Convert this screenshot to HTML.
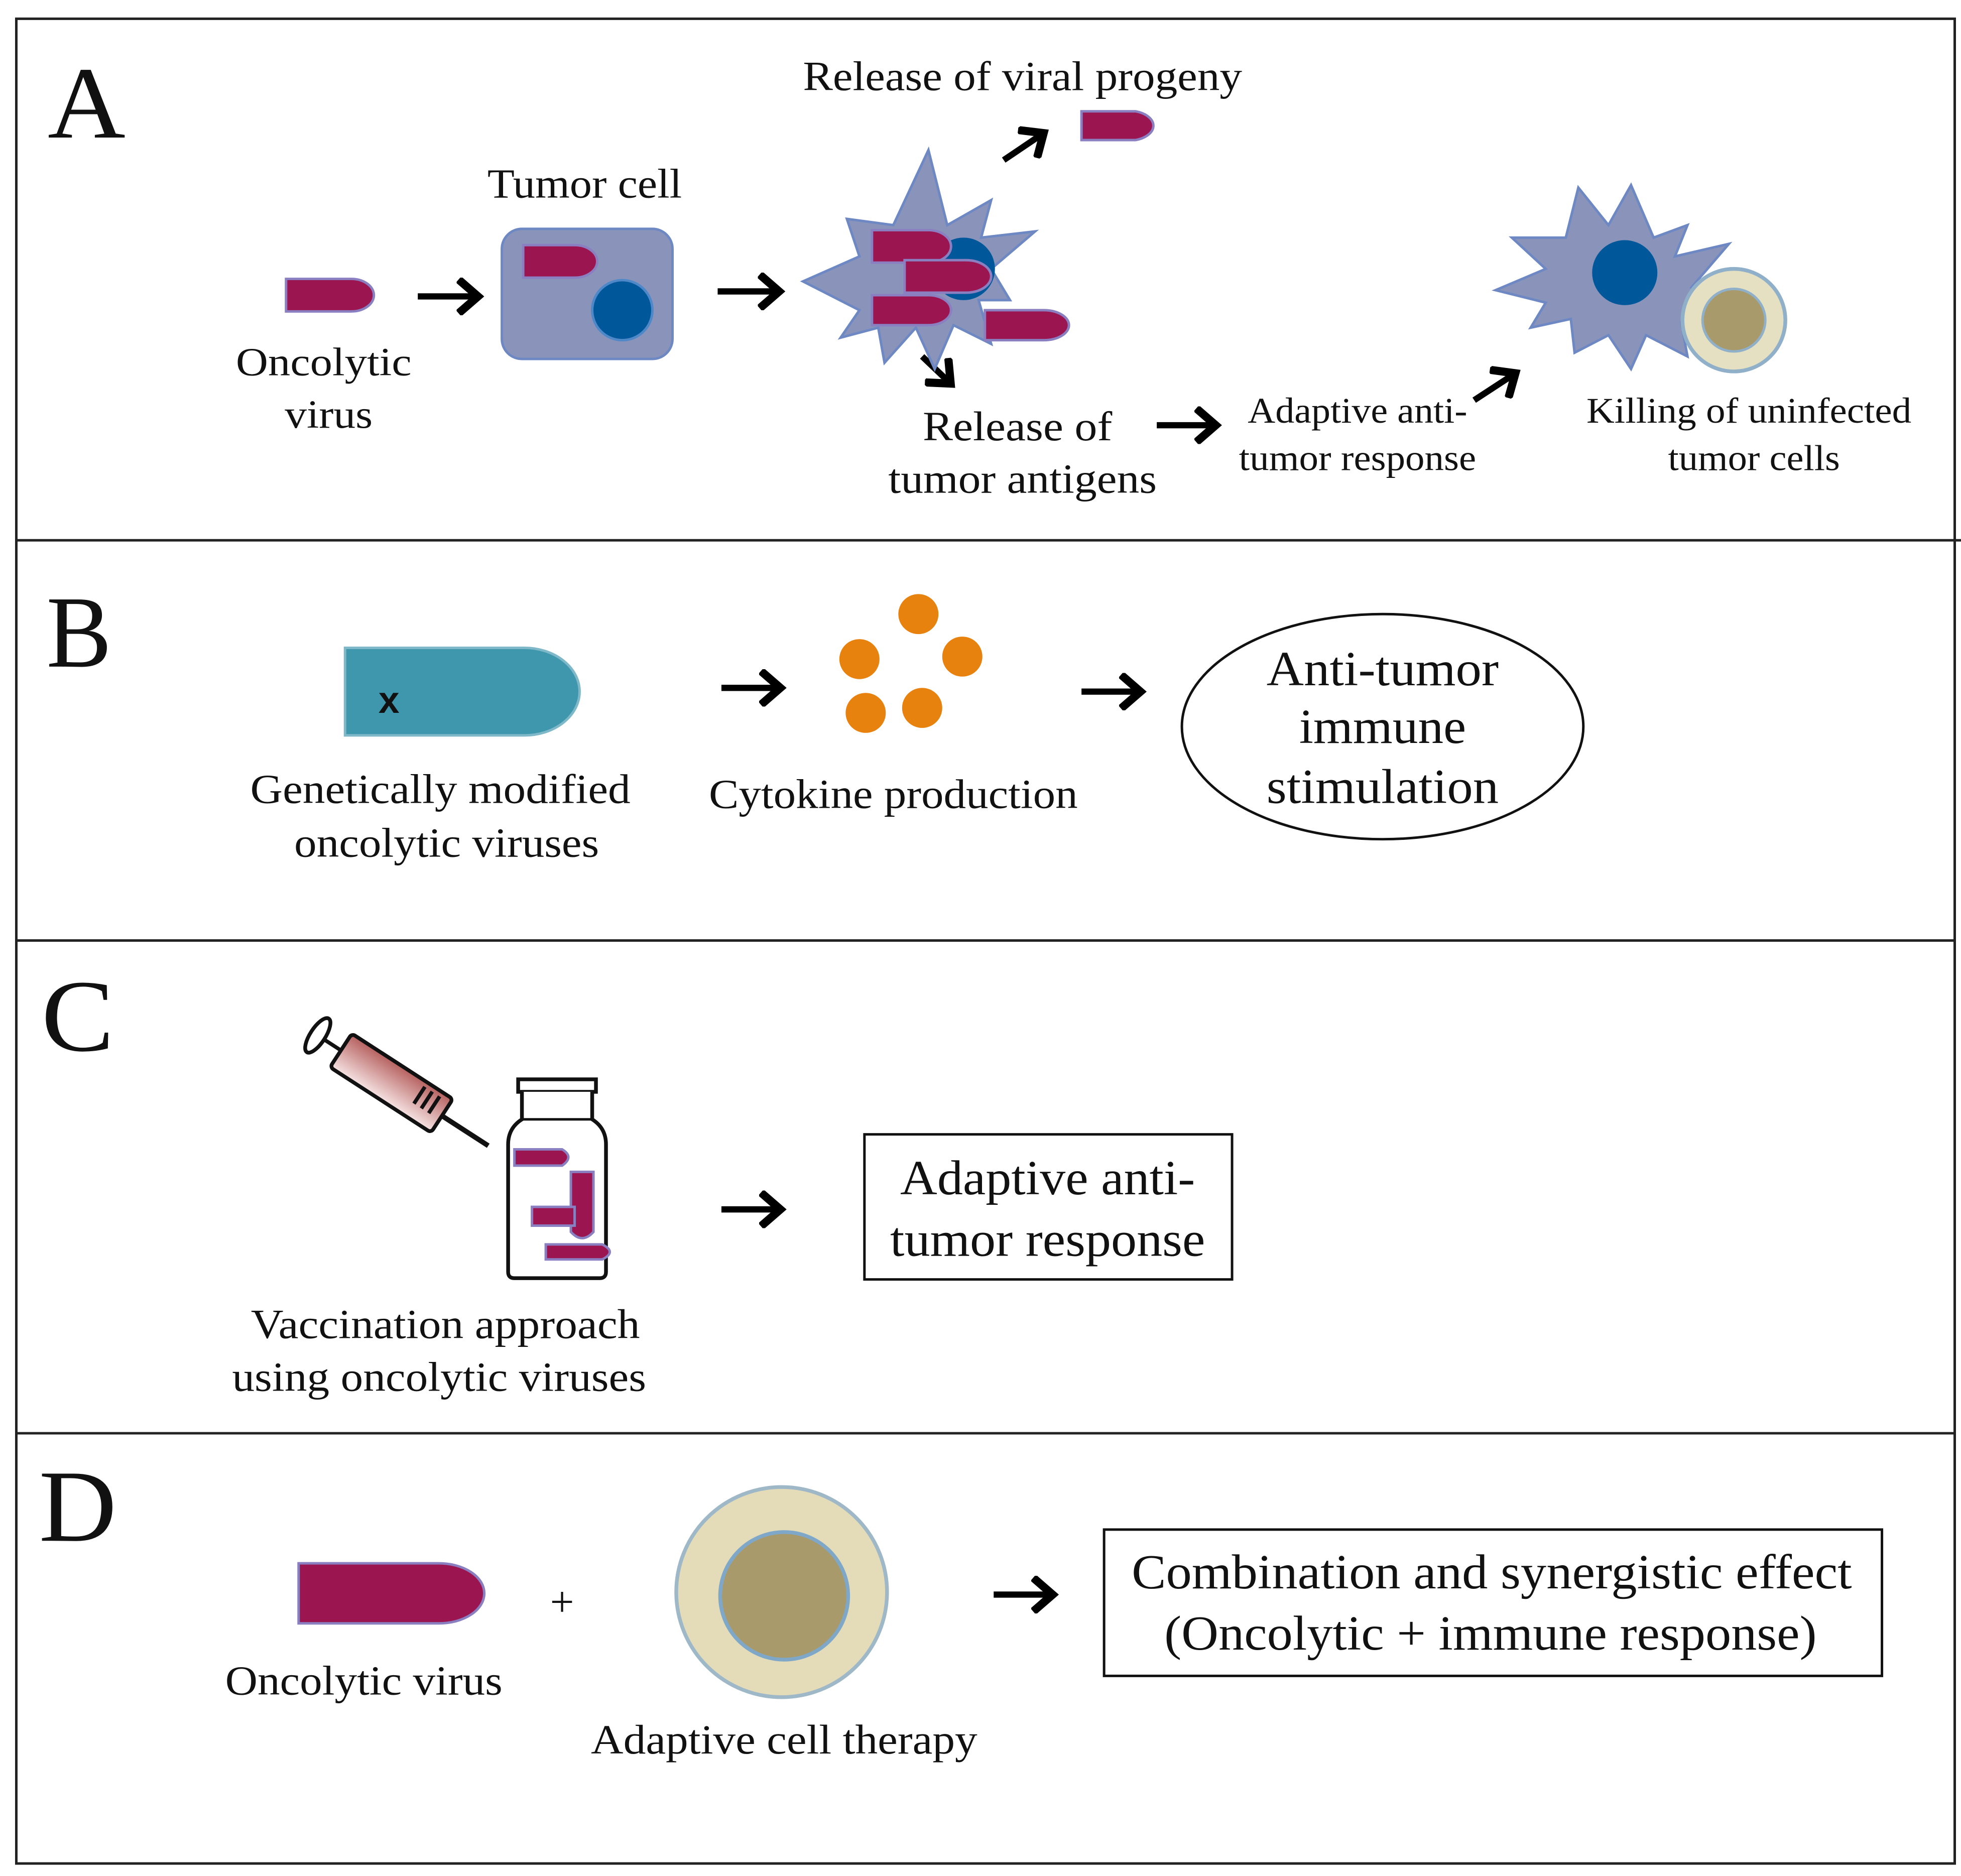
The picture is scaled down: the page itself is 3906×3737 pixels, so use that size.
<!DOCTYPE html>
<html><head><meta charset="utf-8"><style>
html,body{margin:0;padding:0;background:#fff}
svg{display:block}
text{font-family:"Liberation Serif",serif;fill:#111}
</style></head><body>
<svg width="3906" height="3737" viewBox="0 0 1563 1500" preserveAspectRatio="none" xmlns="http://www.w3.org/2000/svg">
<defs>
<marker id="ah" markerWidth="6" markerHeight="6" refX="3.2" refY="3" orient="auto" markerUnits="strokeWidth">
<path d="M0.3,0.3 L3.4,3 L0.3,5.7" fill="none" stroke="#000" stroke-width="1.3"/>
</marker>
<linearGradient id="syr" x1="0" y1="0" x2="0" y2="1"><stop offset="0" stop-color="#b5605e"/><stop offset="1" stop-color="#f6e4e4"/></linearGradient>
</defs>
<rect x="0" y="0" width="1563" height="1500" fill="#fff"/>
<rect x="13" y="15" width="1545" height="1475" fill="none" stroke="#222" stroke-width="2"/>
<line x1="13" y1="432" x2="1563" y2="432" stroke="#222" stroke-width="2"/>
<line x1="13" y1="752" x2="1558" y2="752" stroke="#222" stroke-width="2"/>
<line x1="13" y1="1146" x2="1558" y2="1146" stroke="#222" stroke-width="2"/>

<g fill="none" stroke="#000" stroke-width="5" marker-end="url(#ah)">
<line x1="333" y1="237" x2="380" y2="237"/>
<line x1="572" y1="233" x2="620" y2="233"/>
<line x1="800" y1="128" x2="831" y2="107"/>
<line x1="735" y1="285" x2="757" y2="306"/>
<line x1="922" y1="340" x2="968" y2="340"/>
<line x1="1175" y1="320" x2="1207" y2="299"/>
<line x1="575" y1="550" x2="621" y2="550"/>
<line x1="862" y1="553" x2="908" y2="553"/>
<line x1="575" y1="967" x2="621" y2="967"/>
<line x1="792" y1="1275" x2="838" y2="1275"/>
</g>

<!-- Panel A -->
<text x="38" y="110" font-size="82" textLength="62" lengthAdjust="spacingAndGlyphs">A</text>
<text x="815" y="72" font-size="33" text-anchor="middle" textLength="350" lengthAdjust="spacingAndGlyphs">Release of viral progeny</text>
<path d="M862,89 H905 A20,12 0 0 1 905,112 H862 Z" fill="#9b1550" stroke="#8a7fc0" stroke-width="2"/>
<text x="466" y="158" font-size="33" text-anchor="middle" textLength="155" lengthAdjust="spacingAndGlyphs">Tumor cell</text>
<path d="M228,223 H280 A18,13 0 0 1 280,249 H228 Z" fill="#9b1550" stroke="#8a7fc0" stroke-width="2"/>
<text x="258" y="300" font-size="32" text-anchor="middle" textLength="140" lengthAdjust="spacingAndGlyphs">Oncolytic</text>
<text x="262" y="342" font-size="32" text-anchor="middle" textLength="70" lengthAdjust="spacingAndGlyphs">virus</text>
<rect x="400" y="183" width="136" height="104" rx="16" fill="#8a94ba" stroke="#6d88c2" stroke-width="2"/>
<path d="M417,196 H458 A18,13 0 0 1 458,222 H417 Z" fill="#9b1550" stroke="#8a7fc0" stroke-width="2"/>
<circle cx="496" cy="248" r="24" fill="#00589a" stroke="#4f88c8" stroke-width="2"/>
<polygon points="640,225 685,205 675,175 712,180 740,120 755,180 790,160 782,190 825,185 790,215 805,240 780,240 790,275 760,260 745,295 730,262 705,290 700,262 670,270 685,248" fill="#8a94ba" stroke="#6d88c2" stroke-width="2"/>
<circle cx="768" cy="215" r="25" fill="#00589a"/>
<path d="M695,184 H740 A18,13 0 0 1 740,210 H695 Z" fill="#9b1550" stroke="#8a7fc0" stroke-width="2"/>
<path d="M721,208 H770 A20,13 0 0 1 770,234 H721 Z" fill="#9b1550" stroke="#8a7fc0" stroke-width="2"/>
<path d="M695,236 H740 A18,12 0 0 1 740,260 H695 Z" fill="#9b1550" stroke="#8a7fc0" stroke-width="2"/>
<path d="M785,248 H832 A20,12 0 0 1 832,272 H785 Z" fill="#9b1550" stroke="#8a7fc0" stroke-width="2"/>
<text x="811" y="352" font-size="33" text-anchor="middle" textLength="151" lengthAdjust="spacingAndGlyphs">Release of</text>
<text x="815" y="394" font-size="33" text-anchor="middle" textLength="214" lengthAdjust="spacingAndGlyphs">tumor antigens</text>
<text x="1082" y="338" font-size="29" text-anchor="middle" textLength="175" lengthAdjust="spacingAndGlyphs">Adaptive anti-</text>
<text x="1082" y="376" font-size="29" text-anchor="middle" textLength="189" lengthAdjust="spacingAndGlyphs">tumor response</text>
<polygon points="1192,232 1232,215 1205,190 1248,190 1258,150 1282,180 1300,148 1318,190 1345,180 1335,205 1378,195 1348,230 1375,250 1340,258 1345,285 1312,268 1300,295 1282,268 1255,282 1252,255 1220,262 1232,242" fill="#8a94ba" stroke="#6d88c2" stroke-width="2"/>
<circle cx="1295" cy="218" r="26" fill="#00589a"/>
<circle cx="1382" cy="256" r="41" fill="#e6e0c2" stroke="#8fb0c8" stroke-width="3"/>
<circle cx="1382" cy="256" r="25" fill="#a89a6a" stroke="#8fb0c8" stroke-width="2"/>
<text x="1394" y="338" font-size="29" text-anchor="middle" textLength="259" lengthAdjust="spacingAndGlyphs">Killing of uninfected</text>
<text x="1398" y="376" font-size="29" text-anchor="middle" textLength="137" lengthAdjust="spacingAndGlyphs">tumor cells</text>

<!-- Panel B -->
<text x="37" y="533" font-size="82" textLength="52" lengthAdjust="spacingAndGlyphs">B</text>
<path d="M275,518 H418 A44,35 0 0 1 418,588 H275 Z" fill="#3f97ae" stroke="#7fb8c8" stroke-width="2"/>
<text x="310" y="570" font-size="30" font-weight="bold" text-anchor="middle" style="font-family:'Liberation Sans',sans-serif">x</text>
<text x="351" y="642" font-size="33" text-anchor="middle" textLength="303" lengthAdjust="spacingAndGlyphs">Genetically modified</text>
<text x="356" y="685" font-size="33" text-anchor="middle" textLength="243" lengthAdjust="spacingAndGlyphs">oncolytic viruses</text>
<g fill="#e8820f"><circle cx="732" cy="491" r="16"/><circle cx="685" cy="527" r="16"/><circle cx="767" cy="525" r="16"/><circle cx="690" cy="570" r="16"/><circle cx="735" cy="566" r="16"/></g>
<text x="712" y="646" font-size="33" text-anchor="middle" textLength="294" lengthAdjust="spacingAndGlyphs">Cytokine production</text>
<ellipse cx="1102" cy="581" rx="160" ry="90" fill="none" stroke="#111" stroke-width="2"/>
<text x="1102" y="548" font-size="39" text-anchor="middle" textLength="185" lengthAdjust="spacingAndGlyphs">Anti-tumor</text>
<text x="1102" y="594" font-size="39" text-anchor="middle" textLength="133" lengthAdjust="spacingAndGlyphs">immune</text>
<text x="1102" y="642" font-size="39" text-anchor="middle" textLength="185" lengthAdjust="spacingAndGlyphs">stimulation</text>

<!-- Panel C -->
<text x="33" y="840" font-size="82" textLength="58" lengthAdjust="spacingAndGlyphs">C</text>
<g transform="translate(312,866) rotate(33)">
<rect x="-48" y="-16" width="96" height="32" rx="3" fill="url(#syr)" stroke="#111" stroke-width="3"/>
<line x1="-48" y1="0" x2="-66" y2="0" stroke="#111" stroke-width="3"/>
<ellipse cx="-70" cy="0" rx="6" ry="16" fill="#fff" stroke="#111" stroke-width="3"/>
<line x1="48" y1="0" x2="92" y2="0" stroke="#111" stroke-width="4"/>
<line x1="24" y1="-12" x2="24" y2="4" stroke="#111" stroke-width="3"/>
<line x1="31" y1="-12" x2="31" y2="4" stroke="#111" stroke-width="3"/>
<line x1="38" y1="-12" x2="38" y2="4" stroke="#111" stroke-width="3"/>
</g>
<rect x="413" y="863" width="62" height="10" fill="#fff" stroke="#111" stroke-width="3"/>
<path d="M416,873 V895 Q405,902 405,915 V1017 Q405,1022 410,1022 H478 Q483,1022 483,1017 V915 Q483,902 472,895 V873" fill="#fff" stroke="#111" stroke-width="3"/>
<line x1="416" y1="895" x2="472" y2="895" stroke="#111" stroke-width="2"/>
<path d="M410,919 H448 Q458,925 448,932 H410 Z" fill="#9b1550" stroke="#8a7fc0" stroke-width="2"/>
<path d="M455,937 H473 V985 Q464,995 455,985 Z" fill="#9b1550" stroke="#8a7fc0" stroke-width="2"/>
<path d="M424,965 H458 V980 H424 Z" fill="#9b1550" stroke="#8a7fc0" stroke-width="2"/>
<path d="M435,995 H480 Q492,1001 480,1007 H435 Z" fill="#9b1550" stroke="#8a7fc0" stroke-width="2"/>
<text x="355" y="1070" font-size="33" text-anchor="middle" textLength="310" lengthAdjust="spacingAndGlyphs">Vaccination approach</text>
<text x="350" y="1112" font-size="33" text-anchor="middle" textLength="330" lengthAdjust="spacingAndGlyphs">using oncolytic viruses</text>
<rect x="689" y="907" width="293" height="116" fill="none" stroke="#111" stroke-width="2"/>
<text x="835" y="955" font-size="39" text-anchor="middle" textLength="235" lengthAdjust="spacingAndGlyphs">Adaptive anti-</text>
<text x="835" y="1004" font-size="39" text-anchor="middle" textLength="251" lengthAdjust="spacingAndGlyphs">tumor response</text>

<!-- Panel D -->
<text x="31" y="1232" font-size="82" textLength="62" lengthAdjust="spacingAndGlyphs">D</text>
<path d="M238,1250 H350 A36,24 0 0 1 350,1298 H238 Z" fill="#9b1550" stroke="#8a7fc0" stroke-width="2"/>
<text x="448" y="1292" font-size="34" text-anchor="middle">+</text>
<circle cx="623" cy="1273" r="84" fill="#e4dcb8" stroke="#9fb8c8" stroke-width="3"/>
<circle cx="625" cy="1276" r="51" fill="#a89a6a" stroke="#7fa8c8" stroke-width="3"/>
<text x="290" y="1355" font-size="33" text-anchor="middle" textLength="221" lengthAdjust="spacingAndGlyphs">Oncolytic virus</text>
<text x="625" y="1402" font-size="33" text-anchor="middle" textLength="308" lengthAdjust="spacingAndGlyphs">Adaptive cell therapy</text>
<rect x="880" y="1223" width="620" height="117" fill="none" stroke="#111" stroke-width="2"/>
<text x="1189" y="1270" font-size="39" text-anchor="middle" textLength="574" lengthAdjust="spacingAndGlyphs">Combination and synergistic effect</text>
<text x="1188" y="1319" font-size="39" text-anchor="middle" textLength="520" lengthAdjust="spacingAndGlyphs">(Oncolytic + immune response)</text>
</svg>
</body></html>
